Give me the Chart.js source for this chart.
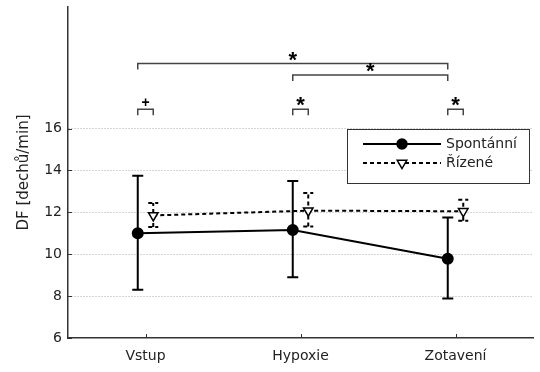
<!DOCTYPE html>
<html>
<head>
<meta charset="utf-8">
<script src="https://cdn.jsdelivr.net/npm/chart.js@4"></script>
<style>
  html, body { margin: 0; padding: 0; background: #fff; }
  #wrap { width: 540px; height: 372px; }
</style>
</head>
<body>
<div id="wrap"><canvas id="chart" width="540" height="372"></canvas></div>
<script>
// categories and values
let categories = ["Vstup", "Hypoxie", "Zotavení"];
let spontMean = [11.0, 11.15, 9.78];
let spontLow = [8.3, 8.9, 7.88];
let spontHigh = [13.75, 13.5, 11.75];
let rizMean = [11.85, 12.08, 12.05];
let rizLow = [11.3, 11.32, 11.6];
let rizHigh = [12.45, 12.92, 12.6];
let yTicks = [6, 8, 10, 12, 14, 16];

// significance marks: [from, to, level, symbol]
let brackets = [
    [0.95, 2.95, 19.1, "*"],
    [1.95, 2.95, 18.55, "*"],
    [0.95, 1.05, 16.92, "+"],
    [1.95, 2.05, 16.92, "*"],
    [2.95, 3.05, 16.92, "*"]
];

let SHIFT = 0.05;
let FONT = "'DejaVu Sans', sans-serif";
let STARFONT = "'Liberation Sans', Arial, sans-serif";

function points(vals, dx) {
    return vals.map((v, i) => ({ x: i + 1 + dx, y: v }));
}

let errorBars = {
    id: "errorBars",
    beforeDatasetsDraw(chart) {
        let ctx = chart.ctx;
        let xs = chart.scales.x, ys = chart.scales.y;
        ctx.save();
        ctx.strokeStyle = "#000";
        // spontánní - solid
        ctx.lineWidth = 2;
        ctx.setLineDash([]);
        for (let i = 0; i < categories.length; i++) {
            let x = xs.getPixelForValue(i + 1 - SHIFT);
            let y1 = ys.getPixelForValue(spontLow[i]);
            let y2 = ys.getPixelForValue(spontHigh[i]);
            ctx.beginPath();
            ctx.moveTo(x, y1); ctx.lineTo(x, y2);
            ctx.moveTo(x - 5.5, y1); ctx.lineTo(x + 5.5, y1);
            ctx.moveTo(x - 5.5, y2); ctx.lineTo(x + 5.5, y2);
            ctx.stroke();
        }
        // řízené - dashed
        ctx.setLineDash([4, 3]);
        for (let i = 0; i < categories.length; i++) {
            let x = xs.getPixelForValue(i + 1 + SHIFT);
            let y1 = ys.getPixelForValue(rizLow[i]);
            let y2 = ys.getPixelForValue(rizHigh[i]);
            ctx.beginPath();
            ctx.moveTo(x, y1); ctx.lineTo(x, y2);
            ctx.moveTo(x - 5, y1); ctx.lineTo(x + 5, y1);
            ctx.moveTo(x - 5, y2); ctx.lineTo(x + 5, y2);
            ctx.stroke();
        }
        ctx.restore();
    }
};

let extras = {
    id: "extras",
    afterDraw(chart) {
        let ctx = chart.ctx;
        let xs = chart.scales.x, ys = chart.scales.y;
        let area = chart.chartArea;
        ctx.save();

        // inward tick marks
        ctx.strokeStyle = "#333";
        ctx.lineWidth = 1;
        categories.forEach((c, i) => {
            let x = Math.round(xs.getPixelForValue(i + 1)) + 0.5;
            ctx.beginPath();
            ctx.moveTo(x, area.bottom); ctx.lineTo(x, area.bottom - 4);
            ctx.stroke();
        });
        yTicks.forEach(v => {
            let y = Math.round(ys.getPixelForValue(v)) + 0.5;
            ctx.beginPath();
            ctx.moveTo(area.left, y); ctx.lineTo(area.left + 4, y);
            ctx.stroke();
        });

        // brackets with their marks just above the line
        ctx.strokeStyle = "#444";
        ctx.lineWidth = 1.5;
        ctx.fillStyle = "#000";
        ctx.textAlign = "center";
        ctx.textBaseline = "alphabetic";
        brackets.forEach(b => {
            let x1 = xs.getPixelForValue(b[0]);
            let x2 = xs.getPixelForValue(b[1]);
            let y = ys.getPixelForValue(b[2]);
            ctx.beginPath();
            ctx.moveTo(x1, y + 6); ctx.lineTo(x1, y); ctx.lineTo(x2, y); ctx.lineTo(x2, y + 6);
            ctx.stroke();
            ctx.font = b[3] === "*" ? "bold 22px " + STARFONT : "bold 14px " + STARFONT;
            let m = ctx.measureText(b[3]);
            ctx.fillText(b[3], (x1 + x2) / 2, y - 3 - m.actualBoundingBoxDescent);
        });

        // legend box
        let lx = 347, ly = 129, lw = 182, lh = 54;
        ctx.fillStyle = "#fff";
        ctx.fillRect(lx, ly, lw, lh);
        ctx.strokeStyle = "#333";
        ctx.lineWidth = 1;
        ctx.strokeRect(lx + 0.5, ly + 0.5, lw, lh);
        let ds = chart.data.datasets;
        [[ly + 15, ds[0]], [ly + 34, ds[1]]].forEach(([yy, d], k) => {
            ctx.strokeStyle = "#000";
            ctx.lineWidth = 2;
            ctx.setLineDash(k === 0 ? [] : [4, 3]);
            ctx.beginPath();
            ctx.moveTo(lx + 16, yy); ctx.lineTo(lx + 94, yy);
            ctx.stroke();
            ctx.setLineDash([]);
            ctx.fillStyle = d.pointBackgroundColor;
            ctx.strokeStyle = "#000";
            ctx.lineWidth = 1.5;
            Chart.helpers.drawPoint(ctx, {
                pointStyle: d.pointStyle, radius: d.pointRadius, rotation: d.pointRotation,
                borderWidth: 1.5
            }, lx + 55, yy);
            ctx.fillStyle = "#222";
            ctx.font = "14px " + FONT;
            ctx.textAlign = "left";
            ctx.textBaseline = "middle";
            ctx.fillText(d.label, lx + 99, yy);
        });
        ctx.restore();
    }
};

new Chart(document.getElementById("chart"), {
    type: "line",
    data: {
        datasets: [{
            label: "Spontánní",
            data: points(spontMean, -SHIFT),
            borderColor: "#000",
            borderWidth: 2,
            pointStyle: "circle",
            pointRadius: 5,
            pointRotation: 0,
            pointBackgroundColor: "#000",
            pointBorderColor: "#000",
            tension: 0
        }, {
            label: "Řízené",
            data: points(rizMean, SHIFT),
            borderColor: "#000",
            borderWidth: 2,
            borderDash: [4, 3],
            pointStyle: "triangle",
            pointRotation: 180,
            pointRadius: 5.5,
            pointBorderWidth: 1.5,
            pointBackgroundColor: "#fff",
            pointBorderColor: "#000",
            tension: 0
        }]
    },
    options: {
        responsive: false,
        animation: false,
        layout: { padding: { top: 0, right: 0, left: 0, bottom: 0 } },
        plugins: { legend: { display: false }, tooltip: { enabled: false } },
        scales: {
            x: {
                type: "linear",
                min: 0.5,
                max: 3.5,
                afterBuildTicks: s => { s.ticks = categories.map((c, i) => ({ value: i + 1 })); },
                afterFit: s => { s.height = 34; s.paddingLeft = 0; s.paddingRight = 0; },
                ticks: {
                    callback: v => categories[v - 1],
                    color: "#222",
                    font: { family: FONT, size: 14 },
                    padding: 2
                },
                grid: { display: false },
                border: { display: true, color: "#333", width: 1.5 }
            },
            y: {
                min: 6,
                max: 21.8,
                afterBuildTicks: s => { s.ticks = yTicks.map(v => ({ value: v })); },
                afterFit: s => { s.width = 68; s.paddingTop = 0; s.paddingBottom = 0; },
                ticks: {
                    color: "#222",
                    font: { family: FONT, size: 14 },
                    padding: 6
                },
                grid: {
                    drawTicks: false,
                    color: c => (c.tick && c.tick.value > 6) ? "#aaa" : "rgba(0,0,0,0)",
                    lineWidth: 1
                },
                border: { display: true, color: "#333", width: 1.5, dash: [1, 2] },
                title: {
                    display: true,
                    text: "DF [dechů/min]",
                    color: "#222",
                    font: { family: FONT, size: 15 },
                    padding: { top: 15, bottom: 0 }
                }
            }
        }
    },
    plugins: [errorBars, extras]
});
</script>
</body>
</html>
